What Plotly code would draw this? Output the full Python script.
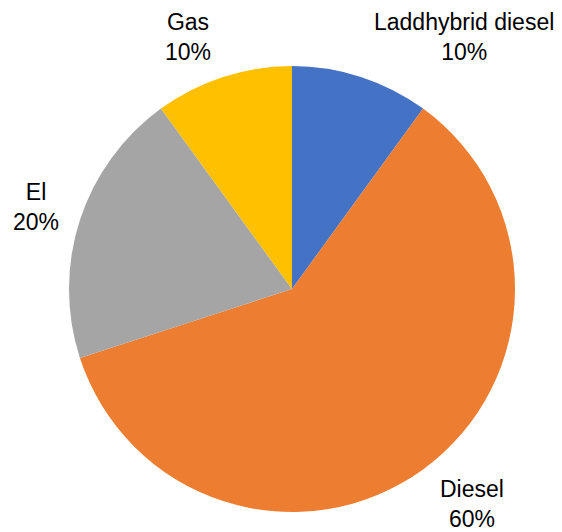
import plotly.graph_objects as go

# Fuel type shares
categories = ["Laddhybrid diesel", "Diesel", "El", "Gas"]
shares = [10, 60, 20, 10]
colors = ["#4472C4", "#ED7D31", "#A5A5A5", "#FFC000"]

W, H = 562, 532
cx, cy, r = 292, 289, 223

fig = go.Figure(
    go.Pie(
        labels=categories,
        values=shares,
        sort=False,
        direction="clockwise",
        rotation=0,
        marker=dict(colors=colors, line=dict(width=0)),
        textinfo="none",
        hoverinfo="label+percent",
        domain=dict(
            x=[(cx - r) / W, (cx + r) / W],
            y=[1 - (cy + r) / H, 1 - (cy - r) / H],
        ),
        showlegend=False,
    )
)

# Label block centres (pixels) for each category
label_pos = {
    "Laddhybrid diesel": (464, 37),
    "Diesel": (472, 504),
    "El": (36, 207),
    "Gas": (188, 37),
}
total = sum(shares)
for cat, val in zip(categories, shares):
    px, py = label_pos[cat]
    fig.add_annotation(
        x=px / W, y=1 - py / H, xref="paper", yref="paper",
        text=f"{cat}<br>{round(val / total * 100)}%",
        showarrow=False, xanchor="center", yanchor="middle",
        align="center",
        font=dict(family="Liberation Sans, Arial, sans-serif", size=23, color="#000000"),
    )

fig.update_layout(
    width=W, height=H,
    margin=dict(l=0, r=0, t=0, b=0),
    paper_bgcolor="white",
    plot_bgcolor="white",
)

fig.write_html("out.html")
